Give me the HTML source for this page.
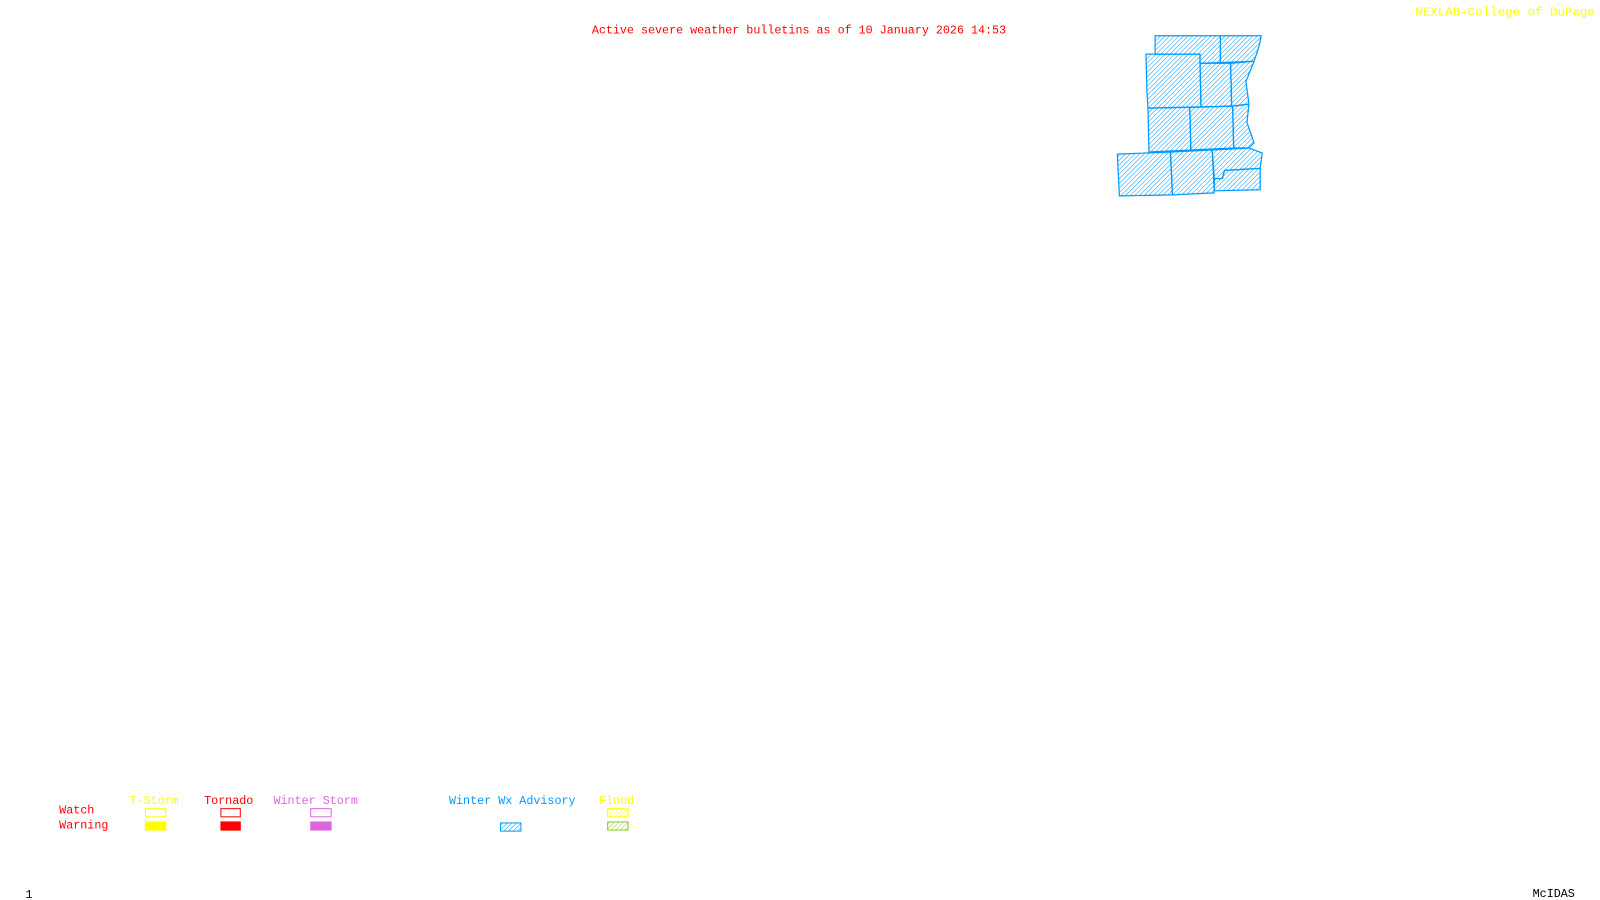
<!DOCTYPE html>
<html><head><meta charset="utf-8"><style>
html,body{margin:0;padding:0;background:#fff;width:1600px;height:900px;overflow:hidden}
svg{display:block}
text{font-family:"Liberation Mono","DejaVu Sans Mono",monospace;font-size:11.5px}
</style></head><body>
<svg width="1600" height="900" viewBox="0 0 1568 882" preserveAspectRatio="none" xmlns="http://www.w3.org/2000/svg">
<defs>
<pattern id="hb" width="3.2" height="3.2" patternUnits="userSpaceOnUse" patternTransform="rotate(45)">
<line x1="0" y1="0" x2="0" y2="3.2" stroke="#0099ff" stroke-width="1"/>
</pattern>
<pattern id="hy" width="3.2" height="3.2" patternUnits="userSpaceOnUse" patternTransform="rotate(45)">
<line x1="0" y1="0" x2="0" y2="3.2" stroke="#ffff00" stroke-width="1"/>
</pattern>
<pattern id="hg" width="3.2" height="3.2" patternUnits="userSpaceOnUse" patternTransform="rotate(45)">
<line x1="0" y1="0" x2="0" y2="3.2" stroke="#88cc22" stroke-width="1"/>
</pattern>
</defs>
<text x="783" y="33" fill="#ff0000" text-anchor="middle" textLength="406" lengthAdjust="spacingAndGlyphs">Active severe weather bulletins as of 10 January 2026 14:53</text>
<text x="1387" y="15" fill="#ffff00" textLength="176" lengthAdjust="spacingAndGlyphs">NEXLAB-College of DuPage</text>
<g fill="url(#hb)" stroke="#0099ff" stroke-width="1.2" stroke-linejoin="round">
<polygon points="1132,35 1196,35 1196,62 1176,62 1176,53 1132,53"/>
<polygon points="1196,35 1236,35 1234,45 1229,60 1206,62 1196,62"/>
<polygon points="1123,53 1176,53 1176,62 1177,105 1125,106 1124,90"/>
<polygon points="1176,62 1206,61 1207,104 1177,105"/>
<polygon points="1206,61 1229,60 1221,80 1224,102 1207,104"/>
<polygon points="1125,106 1166,105 1167,147 1126,149"/>
<polygon points="1166,105 1208,104 1209,145 1167,147"/>
<polygon points="1208,104 1224,102 1222,120 1229,140 1224,145 1209,145"/>
<polygon points="1095,151 1147,149 1149,191 1097,192"/>
<polygon points="1147,149 1188,147 1190,189 1149,191"/>
<polygon points="1188,147 1224,145 1237,150 1235,165 1200,167 1198,175 1190,175"/>
<polygon points="1190,175 1198,175 1200,167 1235,165 1235,186 1190,187"/>
</g>
<text x="58" y="797" fill="#ff0000">Watch</text>
<text x="58" y="812" fill="#ff0000">Warning</text>
<text x="127" y="788" fill="#ffff00">T-Storm</text>
<text x="200" y="788" fill="#ff0000">Tornado</text>
<text x="268" y="788" fill="#dd66dd">Winter Storm</text>
<text x="440" y="788" fill="#0099ff">Winter Wx Advisory</text>
<text x="587" y="788" fill="#ffff00">Flood</text>
<rect x="142.5" y="792.5" width="20" height="8" fill="none" stroke="#ffff00"/>
<rect x="142" y="805" width="21" height="9" fill="#ffff00"/>
<rect x="216.5" y="792.5" width="19" height="8" fill="none" stroke="#ff0000"/>
<rect x="216" y="805" width="20" height="9" fill="#ff0000"/>
<rect x="304.5" y="792.5" width="20" height="8" fill="none" stroke="#dd66dd"/>
<rect x="304" y="805" width="21" height="9" fill="#dd66dd"/>
<rect x="490.5" y="806.5" width="20" height="8" fill="url(#hb)" stroke="#0099ff"/>
<rect x="595.5" y="792.5" width="20" height="8" fill="url(#hy)" stroke="#ffff00"/>
<rect x="595.5" y="805.5" width="20" height="8" fill="url(#hg)" stroke="#88cc22"/>
<text x="25" y="880" fill="#000">1</text>
<text x="1502" y="879" fill="#000">McIDAS</text>
</svg>
</body></html>
